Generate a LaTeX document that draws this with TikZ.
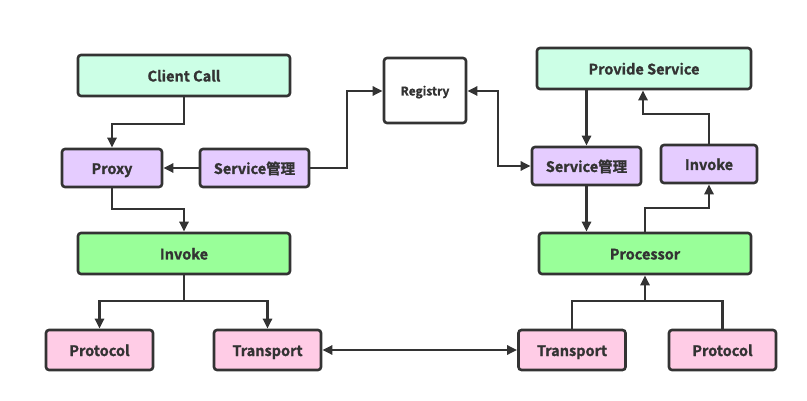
\documentclass[tikz,border=0pt]{standalone}
\usepackage{fontspec}
\setmainfont{Noto Sans CJK SC Bold}[FakeBold=1.2]
\usepackage{xcolor}
\definecolor{ink}{HTML}{333333}
\definecolor{mint}{HTML}{CCFFE6}
\definecolor{lime}{HTML}{99FF99}
\definecolor{lilac}{HTML}{E5CCFF}
\definecolor{rose}{HTML}{FFCCE6}
\usetikzlibrary{arrows.meta}
\tikzset{
  >={Triangle[length=10pt, width=9pt]},
  box/.style={draw=ink, rounded corners=3pt, line width=2.6pt, align=center, inner sep=0pt,
    text=ink, font=\fontsize{14.5}{16}\selectfont, text height=12pt, text depth=0pt},
  top/.style={box, fill=mint, minimum width=212pt, minimum height=41pt},
  core/.style={box, fill=lime, minimum width=212pt, minimum height=41pt},
  mid/.style={box, fill=lilac, minimum height=38pt},
  wire/.style={box, fill=rose, minimum width=107pt, minimum height=40pt},
  flow/.style={->, line width=2.6pt, color=ink},
}

\begin{document}
\begin{tikzpicture}[x=1pt, y=-1pt]
  \useasboundingbox (0,0) rectangle (807,401);

  % consumer side
  \node[top] (client) at (184,75.5) {Client Call};
  \node[mid, minimum width=100pt] (proxy) at (112,168) {Proxy};
  \node[mid, minimum width=109pt] (svcL) at (254.5,168) {Service管理};
  \node[core] (invL) at (184,253.5) {Invoke};
  \node[wire] (protoL) at (99.5,350) {Protocol};
  \node[wire] (transL) at (267.5,350) {Transport};

  % registry
  \node[box, fill=white, minimum width=82pt, minimum height=65pt,
    font=\fontsize{12}{14}\selectfont, text height=10pt] (registry) at (425,90.5) {Registry};

  % provider side
  \node[top, minimum width=214pt] (provide) at (644,68.5) {Provide Service};
  \node[mid, minimum width=109pt] (svcR) at (586.5,166) {Service管理};
  \node[mid, minimum width=96pt] (invR) at (709,164) {Invoke};
  \node[core] (proc) at (645,253.5) {Processor};
  \node[wire] (transR) at (572,350) {Transport};
  \node[wire] (protoR) at (722.5,350) {Protocol};

  \coordinate (splitL) at (184,301);
  \coordinate (mergeR) at (645,301);

  % connectors
  \draw[flow] (client.south) |- (112,124) -- (proxy.north);
  \draw[flow] (svcL) -- (proxy);
  \draw[flow] (proxy.south) |- (184,209) -- (invL.north);
  \draw[flow] (svcL.east) -| (347,91) -- (registry.west |- 0,91);
  \draw[flow, <->] (registry.east |- 0,91) -| (498,166) -- (svcR.west);
  \draw[flow] (svcR.north |- provide.south) -- (svcR.north);
  \draw[flow] (svcR.south) -- (svcR.south |- proc.north);
  \draw[flow] (proc.north) |- (709,208) -- (invR.south);
  \draw[flow] (invR.north) |- (643,114) -- (provide.south -| 643,0);
  \draw[line width=2.6pt, color=ink] (invL.south) -- (splitL);
  \draw[flow] (splitL) -| (protoL.north);
  \draw[flow] (splitL) -| (transL.north);
  \draw[flow, <->] (transL) -- (transR);
  \draw[line width=2.6pt, color=ink] (transR.north) |- (mergeR) -| (protoR.north);
  \draw[flow] (mergeR) -- (proc.south);
\end{tikzpicture}
\end{document}
